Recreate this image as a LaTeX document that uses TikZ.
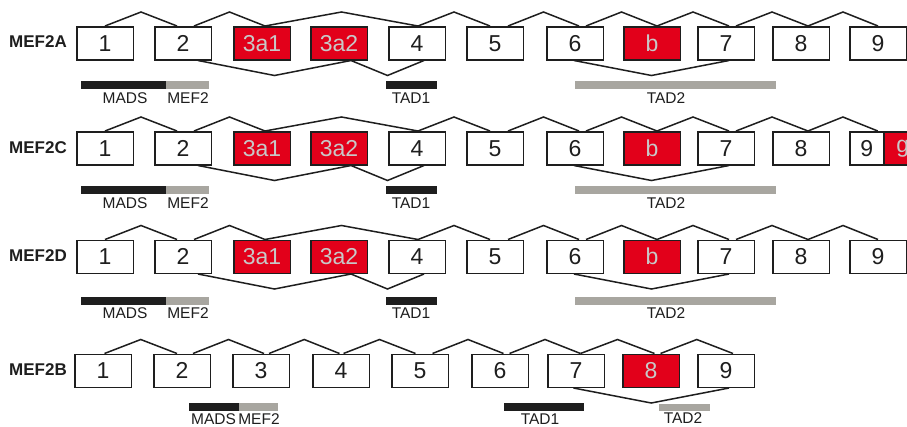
\documentclass[tikz,border=0pt]{standalone}
\usepackage{fontspec}
\setmainfont{Liberation Sans}
\usetikzlibrary{calc}
\definecolor{mefred}{HTML}{E2001A}
\definecolor{bargray}{HTML}{A8A6A0}
\definecolor{pale}{HTML}{C8C8C8}
\definecolor{ink}{HTML}{1E1E1E}
\tikzset{
 exon/.style={draw=ink, line width=1.5pt, fill=white, minimum width=56.5pt, minimum height=33pt, inner sep=0pt, anchor=north west, text=ink, font=\fontsize{23}{23}\selectfont},
 altex/.style={exon, fill=mefred, text=pale},
 splice/.style={draw=ink, line width=1.5pt, line join=miter},
 rowlab/.style={anchor=west, font=\fontsize{17}{17}\selectfont\bfseries, text=ink, inner sep=0pt},
 domlab/.style={font=\fontsize{15.5}{15.5}\selectfont, text=ink, inner sep=0pt},
 blackbar/.style={fill=ink},
 graybar/.style={fill=bargray},
}
\newcommand\upj[4]{\draw[splice] let \p1=([xshift=#3pt]#1.north), \p2=([xshift=#4pt]#2.north) in (\p1) -- ({0.5*\x1+0.5*\x2},{\y1+14pt}) -- (\p2);}
\newcommand\dnj[4]{\draw[splice] let \p1=([xshift=#3pt]#1.south), \p2=([xshift=#4pt]#2.south) in (\p1) -- ({0.5*\x1+0.5*\x2},{\y1-15pt}) -- (\p2);}
% prefix, top y, row label, label y, bar top y, domain label y
\newcommand\longrow[6]{%
 \node[rowlab] (#1lab) at (9,#4) {#3};
 \node[exon] (#1e1) at (76,#2) {1};
 \node[exon] (#1e2) at (154,#2) {2};
 \node[altex] (#1ea1) at (233,#2) {3a1};
 \node[altex] (#1ea2) at (310,#2) {3a2};
 \node[exon] (#1e4) at (388,#2) {4};
 \node[exon] (#1e5) at (466,#2) {5};
 \node[exon] (#1e6) at (546,#2) {6};
 \node[altex] (#1eb) at (623,#2) {b};
 \node[exon] (#1e7) at (697,#2) {7};
 \node[exon] (#1e8) at (772,#2) {8};
 \upj{#1e1}{#1e2}{0}{-6}
 \upj{#1e2}{#1ea1}{11}{3}
 \upj{#1ea1}{#1e4}{3}{1}
 \upj{#1e4}{#1e5}{1}{-5}
 \upj{#1e5}{#1e6}{13}{4}
 \upj{#1e6}{#1eb}{11}{5}
 \upj{#1eb}{#1e7}{5}{3}
 \upj{#1e7}{#1e8}{10}{7}
 \dnj{#1e2}{#1ea2}{15}{12}
 \dnj{#1ea2}{#1e4}{12}{7}
 \dnj{#1e6}{#1e7}{-1}{3}
 \fill[blackbar] (81,#5) rectangle (166,{#5+7.5});
 \fill[graybar] (166,#5) rectangle (209,{#5+7.5});
 \fill[blackbar] (386,#5) rectangle (437,{#5+7.5});
 \fill[graybar] (575,#5) rectangle (776,{#5+7.5});
 \node[domlab] (#1mads) at (125,#6) {MADS};
 \node[domlab] (#1mef) at (188,#6) {MEF2};
 \node[domlab] (#1tadone) at (411,#6) {TAD1};
 \node[domlab] (#1tadtwo) at (666,#6) {TAD2};
}
\begin{document}
\begin{tikzpicture}[x=1pt,y=-1pt]
\useasboundingbox (0,0) rectangle (907,426);
\clip (0,0) rectangle (907,426);
\fill[white] (0,0) rectangle (907,426);
% MEF2A
\longrow{A}{26}{MEF2A}{42}{81}{98}
\node[exon] (Ae9) at (849,26) {9};
\upj{Ae8}{Ae9}{7}{0}
% MEF2C
\longrow{C}{131}{MEF2C}{148}{186}{203}
\node[exon, minimum width=34pt] (Ce9) at (849,131) {9};
\node[altex, minimum width=38pt] (Ceg) at (883,131) {g};
\upj{Ce8}{Ce9}{7}{11}
% MEF2D
\longrow{D}{239.5}{MEF2D}{255.5}{297}{313}
\node[exon] (De9) at (849,239.5) {9};
\upj{De8}{De9}{7}{0}
% MEF2B
\node[rowlab] (Blab) at (9,370) {MEF2B};
\node[exon] (Be1) at (74,353.5) {1};
\node[exon] (Be2) at (153,353.5) {2};
\node[exon] (Be3) at (232,353.5) {3};
\node[exon] (Be4) at (312,353.5) {4};
\node[exon] (Be5) at (391,353.5) {5};
\node[exon] (Be6) at (471,353.5) {6};
\node[exon] (Be7) at (547,353.5) {7};
\node[altex] (Be8) at (622,353.5) {8};
\node[exon] (Be9) at (697,353.5) {9};
\upj{Be1}{Be2}{1.5}{-5}
\upj{Be2}{Be3}{11}{3}
\upj{Be3}{Be4}{8}{-1.5}
\upj{Be4}{Be5}{2.5}{-4.5}
\upj{Be5}{Be6}{12.5}{3.5}
\upj{Be6}{Be7}{9.5}{4.5}
\upj{Be7}{Be8}{4.5}{3.5}
\upj{Be8}{Be9}{9.5}{7}
\dnj{Be7}{Be9}{-2.5}{3}
\fill[blackbar] (189,403) rectangle (239,411);
\fill[graybar] (239,403) rectangle (278,411);
\fill[blackbar] (504,403) rectangle (584,411);
\fill[graybar] (659,404) rectangle (710,411);
\node[domlab] (Bmads) at (213.5,419) {MADS};
\node[domlab] (Bmef) at (259,419) {MEF2};
\node[domlab] (Btadone) at (540,419) {TAD1};
\node[domlab] (Btadtwo) at (683,418) {TAD2};
\end{tikzpicture}
\end{document}
